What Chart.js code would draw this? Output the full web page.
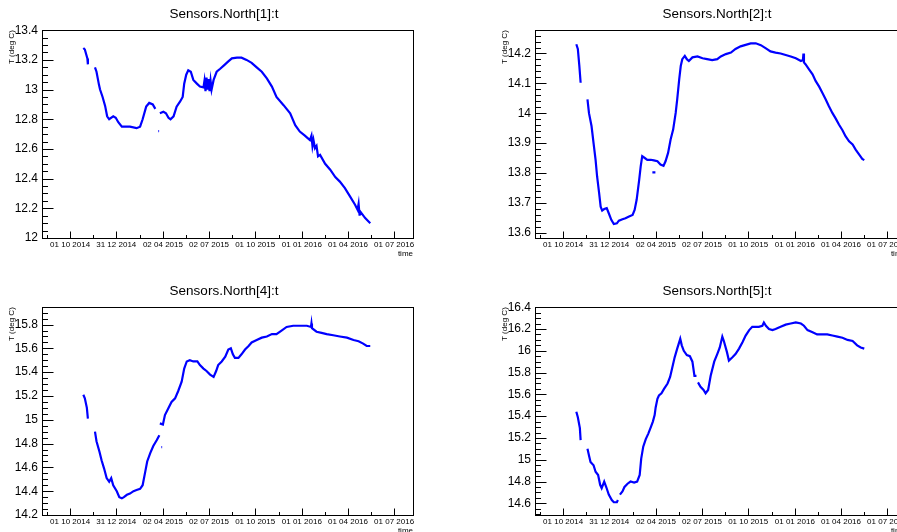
<!DOCTYPE html>
<html><head><meta charset="utf-8">
<script src="https://cdn.jsdelivr.net/npm/chart.js@4/dist/chart.umd.min.js"></script>
<style>
html,body{margin:0;padding:0;background:#fff;overflow:hidden;width:897px;height:532px;position:relative;}
.pad{position:absolute;width:448px;height:266px;}
canvas{display:block;}
</style></head><body>
<div class="pad" style="left:0;top:0"><canvas id="c1" width="448" height="266"></canvas></div>
<div class="pad" style="left:493px;top:0"><canvas id="c2" width="448" height="266"></canvas></div>
<div class="pad" style="left:0;top:277px"><canvas id="c3" width="448" height="266"></canvas></div>
<div class="pad" style="left:493px;top:277px"><canvas id="c4" width="448" height="266"></canvas></div>
<script>
// time axis: days since 01 10 2014
const xTickDays = [-46, 0, 46, 91, 137, 183, 228, 274, 320, 365, 411, 457, 502, 548, 594, 639];
const xTickLabels = ["01 10 2014", "31 12 2014", "02 04 2015", "02 07 2015", "01 10 2015", "01 01 2016", "01 04 2016", "01 07 2016"];

const days1 = [26,29,34,35,42,49,52,57,59,64,69,73,77,85,90,95,102,108,118,131,138,143,150,156,163,168,171,174,175.5,176,177,184,189,194,198,204,210,217,222,225,229,233,238,243,250,256,263,265,267,269,271,273,275,277,279,283,289,296,304,312,319,329,338,348,358,368,378,388,398,407,421,434,444,453,463,473,476,478,480,483,486,489,493,503,513,523,532,542,552,562,567,569,571,572,582,592];
const temp1 = [13.28,13.27,13.21,13.17,null,13.15,13.12,13.03,13.00,12.95,12.89,12.82,12.80,12.82,12.81,12.78,12.75,12.75,12.75,12.74,12.75,12.80,12.885,12.91,12.90,12.87,null,12.72,12.72,null,12.84,12.85,12.84,12.81,12.80,12.82,12.885,12.92,12.95,13.04,13.10,13.13,13.12,13.065,13.04,13.02,13.015,13.06,12.99,13.08,13.0,13.07,12.99,13.06,13.0,13.065,13.12,13.14,13.165,13.19,13.21,13.215,13.215,13.20,13.18,13.15,13.12,13.075,13.02,12.95,12.895,12.84,12.76,12.717,12.69,12.66,12.69,12.62,12.66,12.605,12.62,12.55,12.56,12.50,12.46,12.41,12.38,12.336,12.28,12.224,12.19,12.23,12.15,12.18,12.134,12.10];

const days2 = [26,29,32,34.5,41,48,51,56,60,64,67,71,74,77,81,86,90,95,100,106,110,117,123,130,137,141,145,150,153,156,161,166,173,179,186,192,198,202,207,212,217,222,225,229,232,235,240,244,248,255,265,275,284,294,304,311,321,331,340,350,360,370,380,390,400,409,419,429,439,449,459,469,473,474,475,478,485,492,498,505,511,518,524,531,538,544,551,557,564,571,577,584,590,594,595,176,182];
const temp2 = [14.231,14.215,14.158,14.102,null,14.046,14.0,13.957,13.90,13.844,13.788,13.732,13.687,13.674,13.679,13.682,13.665,13.643,13.629,13.631,13.64,13.645,13.648,13.654,13.659,13.676,13.71,13.777,13.822,13.856,13.85,13.844,13.844,13.842,13.839,13.828,13.824,13.839,13.867,13.912,13.945,14.001,14.046,14.114,14.158,14.181,14.192,14.181,14.175,14.187,14.19,14.184,14.181,14.178,14.181,14.19,14.198,14.203,14.215,14.224,14.229,14.234,14.234,14.228,14.217,14.207,14.203,14.20,14.195,14.19,14.184,14.175,14.178,14.2,14.17,14.164,14.147,14.13,14.108,14.089,14.069,14.046,14.024,14.001,13.981,13.962,13.943,13.923,13.906,13.895,13.878,13.861,13.847,13.843,null,13.802,13.802];

const days3 = [26,29,33,35,42,49,52,58,62,67,72,77,81,85,92,97,102,106,112,118,125,131,138,143,148,152,158,164,171,176,176.5,177,183,187,194,200,207,213,220,225,230,236,243,251,256,263,269,276,283,288,292,299,306,312,317,321,325,332,338,345,352,358,368,378,388,398,407,417,427,440,453,467,475,476,477,486,496,506,519,532,546,559,569,578,585,592,593,180,181.5];
const temp3 = [15.21,15.18,15.10,15.01,null,14.90,14.82,14.73,14.66,14.59,14.51,14.48,14.51,14.45,14.40,14.35,14.34,14.35,14.37,14.38,14.40,14.41,14.42,14.45,14.56,14.65,14.72,14.78,14.83,14.87,null,14.97,14.96,15.04,15.10,15.15,15.18,15.24,15.32,15.43,15.49,15.50,15.49,15.49,15.46,15.43,15.41,15.38,15.36,15.41,15.46,15.49,15.53,15.59,15.60,15.55,15.52,15.52,15.55,15.59,15.62,15.65,15.67,15.69,15.70,15.72,15.72,15.75,15.78,15.79,15.79,15.79,15.78,15.81,15.77,15.74,15.73,15.72,15.71,15.70,15.69,15.67,15.66,15.64,15.62,15.62,null,14.77,14.77];

const days4 = [26,29,33,34.5,41,48,51,54,60,64,69,73,76,81,85,90,96,100,106,108,110,112,117,121,127,133,140,146,151,154,158,163,168,173,177,180.5,182.5,186,189,194,199,206,211,215,220,225,231,234,238,244,250,255,259,263,264.5,266,271,277,281,286,291,298,304,309,314,317,323,327,334,340,347,354,360,367,373,380,386,393,396,400,406,413,419,429,439,449,459,469,475,482,492,501,511,521,531,541,551,561,571,580,587,594];
const temp4 = [15.44,15.39,15.29,15.18,null,15.10,15.04,14.98,14.95,14.89,14.86,14.77,14.74,14.80,14.75,14.68,14.63,14.61,14.61,14.63,null,14.68,14.71,14.75,14.78,14.80,14.79,14.80,14.86,15.01,15.12,15.19,15.24,15.30,15.35,15.41,15.48,15.56,15.59,15.61,15.65,15.70,15.76,15.84,15.94,16.02,16.11,16.05,16.00,15.96,15.95,15.90,15.77,15.77,null,15.71,15.67,15.64,15.61,15.64,15.77,15.90,15.97,16.03,16.13,16.09,15.99,15.91,15.94,15.97,16.02,16.08,16.14,16.19,16.22,16.22,16.22,16.23,16.26,16.23,16.20,16.19,16.20,16.22,16.24,16.25,16.26,16.25,16.23,16.19,16.17,16.15,16.15,16.15,16.14,16.13,16.12,16.10,16.09,16.05,16.03,16.02];

const yTicks1 = [12, 12.2, 12.4, 12.6, 12.8, 13, 13.2, 13.4];
const yTicks2 = [13.6, 13.7, 13.8, 13.9, 14, 14.1, 14.2];
const yTicks3 = [14.2, 14.4, 14.6, 14.8, 15, 15.2, 15.4, 15.6, 15.8];
const yTicks4 = [14.6, 14.8, 15, 15.2, 15.4, 15.6, 15.8, 16, 16.2, 16.4];

const FONT = "'Liberation Sans', Arial, Helvetica, sans-serif";

const rootFrame = {
  id: 'rootFrame',
  afterDraw(chart, args, opts) {
    const {ctx, chartArea: a, scales: {x, y}} = chart;
    ctx.save();
    ctx.strokeStyle = '#000';
    ctx.lineWidth = 1;
    const L = Math.round(a.left) + 0.5, T = Math.round(a.top) + 0.5;
    const R = Math.round(a.right) + 0.5, B = Math.round(a.bottom) + 0.5;
    ctx.strokeRect(L, T, R - L, B - T);
    ctx.beginPath();
    x.ticks.forEach((t, i) => {
      const px = Math.round(x.getPixelForValue(t.value)) + 0.5;
      const len = (i % 2 === 1) ? 7 : 3.5;
      ctx.moveTo(px, B); ctx.lineTo(px, B - len);
    });
    y.ticks.forEach(t => {
      const py = Math.round(y.getPixelForValue(t.value)) + 0.5;
      ctx.moveTo(L, py); ctx.lineTo(L + 11, py);
    });
    const m = opts.minor;
    const k0 = Math.ceil(y.min / m - 1e-6), k1 = Math.floor(y.max / m + 1e-6);
    for (let k = k0; k <= k1; k++) {
      const v = k * m;
      if (y.ticks.some(t => Math.abs(t.value - v) < m / 10)) continue;
      const py = Math.round(y.getPixelForValue(v)) + 0.5;
      ctx.moveTo(L, py); ctx.lineTo(L + 5.5, py);
    }
    ctx.stroke();
    ctx.restore();
  }
};

function makeChart(id, title, days, temps, yMin, yMax, yTicks, minor) {
  const data = days.map((d, i) => ({x: d, y: temps[i]}));
  return new Chart(document.getElementById(id), {
    type: 'line',
    data: { datasets: [{
      data: data, borderColor: '#0000ff', backgroundColor: '#0000ff',
      borderWidth: 2.2, pointRadius: 0, spanGaps: false, tension: 0, fill: false
    }]},
    options: {
      responsive: false, animation: false, devicePixelRatio: 1,
      layout: { padding: 0 },
      plugins: {
        legend: { display: false }, tooltip: { enabled: false },
        title: { display: true, text: title, color: '#000',
          font: { family: FONT, size: 13.5, weight: 'normal' }, padding: { top: 6, bottom: 8 } },
        rootFrame: { minor: minor }
      },
      scales: {
        x: {
          type: 'linear', min: -55.5, max: 676.3, bounds: 'data',
          afterBuildTicks: s => { s.ticks = xTickDays.map(v => ({value: v})); },
          ticks: { autoSkip: false, maxRotation: 0, minRotation: 0, padding: 2, color: '#000',
            font: { family: FONT, size: 8 },
            callback: (v, i) => (i % 2 === 1 ? xTickLabels[(i - 1) / 2] : '') },
          grid: { display: false, drawTicks: false }, border: { display: false },
          title: { display: true, text: 'time', align: 'end', color: '#000',
            font: { family: FONT, size: 8 }, padding: { top: 0, bottom: 7 } },
          afterFit: s => { s.height = 28; s.paddingLeft = 0; s.paddingRight = 0; }
        },
        y: {
          type: 'linear', position: 'left', min: yMin, max: yMax, bounds: 'data',
          afterBuildTicks: s => { s.ticks = yTicks.map(v => ({value: v})); },
          ticks: { padding: 4, color: '#000', font: { family: FONT, size: 12 }, callback: v => String(v) },
          grid: { display: false, drawTicks: false }, border: { display: false },
          title: { display: true, text: 'T (deg C)', align: 'end', color: '#000',
            font: { family: FONT, size: 8 }, padding: { top: 7, bottom: 0 } },
          afterFit: s => { s.width = 42; s.paddingTop = 0; s.paddingBottom = 0; }
        },
        yr: {
          type: 'linear', position: 'right', display: true,
          ticks: { display: false }, grid: { display: false, drawTicks: false }, border: { display: false },
          afterFit: s => { s.width = 35; s.paddingTop = 0; s.paddingBottom = 0; }
        }
      }
    },
    plugins: [rootFrame]
  });
}

makeChart('c1', 'Sensors.North[1]:t', days1, temp1, 12, 13.4, yTicks1, 0.05);
makeChart('c2', 'Sensors.North[2]:t', days2, temp2, 13.582, 14.278, yTicks2, 0.02);
makeChart('c3', 'Sensors.North[4]:t', days3, temp3, 14.2, 15.946, yTicks3, 0.05);
makeChart('c4', 'Sensors.North[5]:t', days4, temp4, 14.493, 16.4, yTicks4, 0.05);
</script>
</body></html>
